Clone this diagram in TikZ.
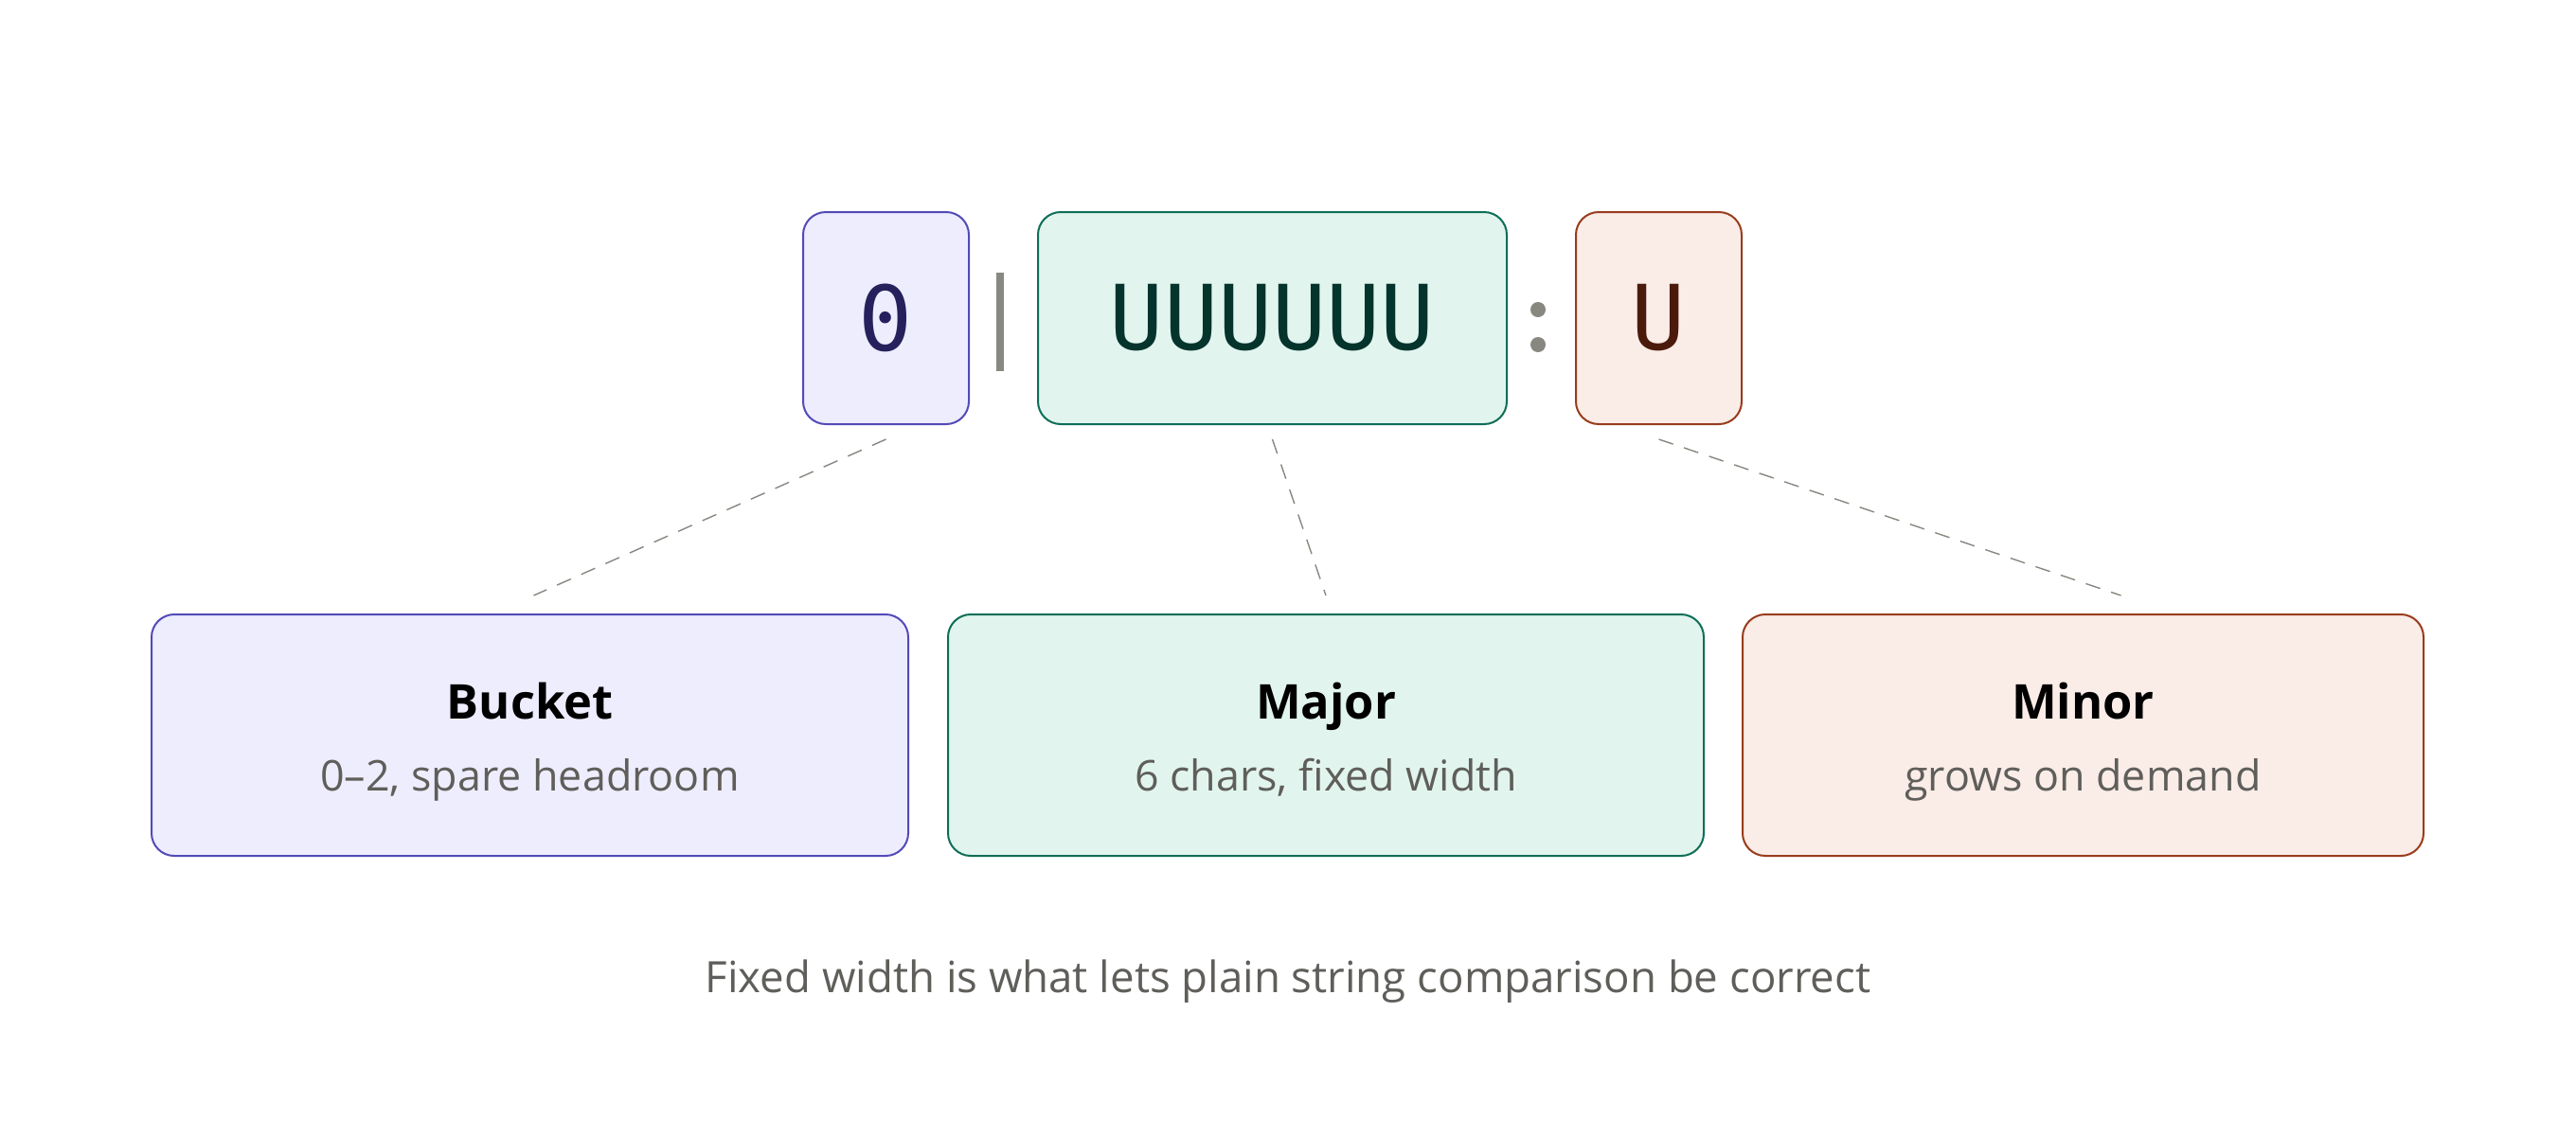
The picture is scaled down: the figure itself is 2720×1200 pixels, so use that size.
\documentclass[tikz,border=0pt]{standalone}
\usepackage{fontspec}
\setmainfont{Open Sans}
\newfontfamily\monof{DejaVu Sans Mono}
\definecolor{pB}{HTML}{534AB7}
\definecolor{pF}{HTML}{EEEDFE}
\definecolor{pT}{HTML}{26215C}
\definecolor{tB}{HTML}{0F6E56}
\definecolor{tF}{HTML}{E1F5EE}
\definecolor{tT}{HTML}{04342C}
\definecolor{cB}{HTML}{993C1D}
\definecolor{cF}{HTML}{FAECE7}
\definecolor{cT}{HTML}{4A1B0C}
\definecolor{grayc}{HTML}{888780}
\definecolor{subc}{HTML}{5F5E5A}
\begin{document}
\begin{tikzpicture}[x=0.5pt,y=-0.5pt,
  box/.style={draw, line width=1pt, rounded corners=12pt, inner sep=0pt},
  topbox/.style={box, minimum height=112pt, font=\monof\fontsize{47.5}{50}\selectfont},
  botbox/.style={box, minimum height=127.5pt},
  ttl/.style={anchor=base, font=\bfseries\fontsize{25.3}{30}\selectfont, text=black},
  sub/.style={anchor=base, font=\fontsize{22.4}{26}\selectfont, text=subc},
  conn/.style={draw=grayc, line width=0.7pt, dash pattern=on 8pt off 6pt},
  sep/.style={fill=grayc, draw=none, inner sep=0pt}
]
\useasboundingbox[fill=white] (0,0) rectangle (2720,1200);

% top row
\node[topbox, draw=pB, fill=pF, text=pT, minimum width=87.5pt] (topB) at (935.5,336) {0};
\node[sep, rectangle, minimum width=4pt, minimum height=52pt] (bar) at (1056,340) {};
\node[topbox, draw=tB, fill=tF, text=tT, minimum width=247.5pt] (topM) at (1343.5,336) {UUUUUU};
\node[sep, circle, minimum size=8pt] (dot1) at (1624,327) {};
\node[sep, circle, minimum size=8pt] (dot2) at (1624,364) {};
\node[topbox, draw=cB, fill=cF, text=cT, minimum width=87.5pt] (topm) at (1751.5,336) {U};

% bottom row
\node[botbox, draw=pB, fill=pF, minimum width=399.5pt] (botB) at (559.5,776.5) {};
\node[botbox, draw=tB, fill=tF, minimum width=399pt] (botM) at (1400,776.5) {};
\node[botbox, draw=cB, fill=cF, minimum width=359.5pt] (botm) at (2199.5,776.5) {};

\node[ttl] (ttlB) at (559.5,759) {Bucket};
\node[sub] (subB) at (559.5,835) {0–2, spare headroom};
\node[ttl] (ttlM) at (1400,759) {Major};
\node[sub] (subM) at (1400,835) {6 chars, fixed width};
\node[ttl] (ttlm) at (2199.5,759) {Minor};
\node[sub] (subm) at (2199.5,835) {grows on demand};

% connectors
\coordinate (eB) at ([xshift=2pt,yshift=9.5pt]botB.north);
\coordinate (eM) at ([yshift=9.5pt]botM.north);
\coordinate (em) at ([xshift=20pt,yshift=9.5pt]botm.north);
\draw[conn] ([yshift=-7.5pt]topB.south) -- (eB);
\draw[conn] ([yshift=-7.5pt]topM.south) -- (eM);
\draw[conn] ([yshift=-7.5pt]topm.south) -- (em);

% footer
\node[sub, font=\fontsize{22.8}{27}\selectfont] (foot) at (1360,1048) {Fixed width is what lets plain string comparison be correct};
\end{tikzpicture}
\end{document}
